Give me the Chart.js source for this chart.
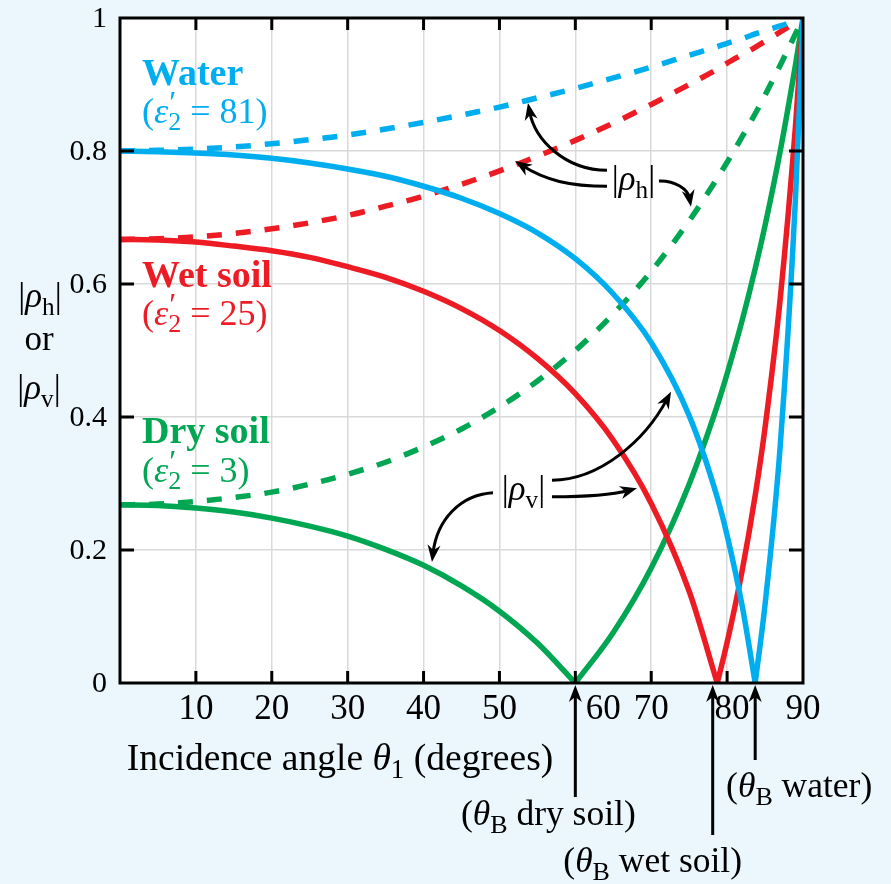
<!DOCTYPE html>
<html>
<head>
<meta charset="utf-8">
<script src="https://cdn.jsdelivr.net/npm/chart.js@4.4.1/dist/chart.umd.min.js"></script>
<style>
  html, body { margin: 0; padding: 0; background: #ecf6fd; }
  #wrap { width: 891px; height: 884px; }
</style>
</head>
<body>
<div id="wrap"><canvas id="fresnelChart" width="891" height="884"></canvas></div>
<script>
// incidence angles (degrees) and |rho| values
const angles = [0, 5, 10, 15, 20, 25, 30, 35, 40, 45, 50, 55, 60, 65, 70, 75, 78.7, 80, 82, 83.7, 85, 87, 89, 90];

const waterH = [0.800, 0.801, 0.803, 0.806, 0.811, 0.817, 0.824, 0.833, 0.843, 0.854, 0.866, 0.880, 0.894, 0.910, 0.926, 0.944, 0.957, 0.962, 0.969, 0.976, 0.981, 0.988, 0.996, 1];
const waterV = [0.800, 0.799, 0.797, 0.794, 0.789, 0.782, 0.773, 0.762, 0.747, 0.729, 0.706, 0.677, 0.638, 0.585, 0.512, 0.402, 0.279, 0.222, 0.115, 0.000, 0.118, 0.357, 0.727, 1];
const wetH = [0.667, 0.668, 0.671, 0.676, 0.683, 0.692, 0.703, 0.717, 0.732, 0.750, 0.770, 0.792, 0.816, 0.842, 0.870, 0.900, 0.923, 0.932, 0.945, 0.956, 0.965, 0.979, 0.993, 1];
const wetV = [0.667, 0.666, 0.663, 0.657, 0.650, 0.640, 0.626, 0.610, 0.589, 0.563, 0.530, 0.488, 0.435, 0.365, 0.270, 0.138, 0.000, 0.061, 0.170, 0.282, 0.384, 0.578, 0.836, 1];
const dryH = [0.268, 0.269, 0.273, 0.279, 0.287, 0.299, 0.314, 0.332, 0.355, 0.382, 0.415, 0.454, 0.500, 0.555, 0.619, 0.695, 0.759, 0.783, 0.822, 0.856, 0.884, 0.929, 0.976, 1];
const dryV = [0.268, 0.267, 0.263, 0.257, 0.248, 0.236, 0.221, 0.201, 0.177, 0.146, 0.108, 0.060, 0.000, 0.076, 0.173, 0.299, 0.417, 0.465, 0.546, 0.623, 0.688, 0.800, 0.929, 1];

const xTicks = [10, 20, 30, 40, 50, 60, 70, 80, 90];
const xTickLabels = ['10', '20', '30', '40', '50', '60', '70', '80', '90'];
const yTicks = [0, 0.2, 0.4, 0.6, 0.8, 1];
const yTickLabels = ['0', '0.2', '0.4', '0.6', '0.8', '1'];

// Brewster angles (degrees) marked under the axis
const brewsterDry = 60;
const brewsterWet = 78.1;
const brewsterWater = 83.7;

const BLUE = '#00aeef';
const RED = '#ed1c24';
const GREEN = '#00a651';
const SERIF = '"Liberation Serif", "DejaVu Serif", serif';

const pts = (vals, from, to) => angles.slice(from, to).map((a, i) => ({ x: a, y: vals[from + i] }));

function line(data, color, dashed) {
    return {
        data: data,
        borderColor: color,
        borderWidth: 5.5,
        borderDash: dashed ? [15, 14] : [],
        pointRadius: 0,
        fill: false,
        cubicInterpolationMode: 'monotone'
    };
}

// |rho_v| has a sharp zero at the Brewster angle: draw both branches separately
function vBranches(vals, color) {
    const k = vals.indexOf(0);
    return [
        line(pts(vals, 0, k + 1), color, false),
        line(pts(vals, k, vals.length), color, false)
    ];
}

// draw a list of text pieces side by side (italics, subscripts...)
function richText(ctx, parts, x, y, align, color) {
    ctx.fillStyle = color || '#000';
    ctx.textBaseline = 'alphabetic';
    ctx.textAlign = 'left';
    let total = 0;
    const widths = parts.map(p => {
        ctx.font = p.f;
        const w = ctx.measureText(p.t).width;
        if (!p.stay) total += w;
        return w;
    });
    let cx = align === 'center' ? x - total / 2 : (align === 'right' ? x - total : x);
    parts.forEach((p, i) => {
        ctx.font = p.f;
        ctx.fillText(p.t, cx + (p.dx || 0), y + (p.dy || 0));
        if (!p.stay) cx += widths[i];
    });
}

const reg = s => s + 'px ' + SERIF;
const ital = s => 'italic ' + s + 'px ' + SERIF;
const bold = s => 'bold ' + s + 'px ' + SERIF;

function epsLabel(value) {
    return [
        { t: '(', f: reg(36) },
        { t: 'ε', f: ital(36) },
        { t: '′', f: reg(32), dy: -10, stay: true, dx: 1 },
        { t: '2', f: reg(26), dy: 7 },
        { t: ' = ' + value + ')', f: reg(36) }
    ];
}

function rhoLabel(sub, size) {
    return [
        { t: '|', f: reg(size) },
        { t: 'ρ', f: ital(size) },
        { t: sub, f: reg(size * 0.72), dy: 8 },
        { t: '|', f: reg(size) }
    ];
}

function thetaB(rest) {
    return [
        { t: '(', f: reg(35.5) },
        { t: 'θ', f: ital(35.5) },
        { t: 'B', f: reg(26), dy: 8 },
        { t: ' ' + rest + ')', f: reg(35.5) }
    ];
}

function arrowHead(ctx, x, y, fx, fy) {
    const ang = Math.atan2(y - fy, x - fx);
    const len = 17, half = 6.5;
    const bx = x - len * Math.cos(ang), by = y - len * Math.sin(ang);
    ctx.beginPath();
    ctx.moveTo(x, y);
    ctx.lineTo(bx + half * Math.sin(ang), by - half * Math.cos(ang));
    ctx.lineTo(x - 0.7 * len * Math.cos(ang), y - 0.7 * len * Math.sin(ang));
    ctx.lineTo(bx - half * Math.sin(ang), by + half * Math.cos(ang));
    ctx.closePath();
    ctx.fill();
}

// curved arrows, points given in data units [angle, value]
const curvedArrows = [
    [[64.17, 0.771], [58.64, 0.771], [54.68, 0.817], [53.76, 0.872]],
    [[64.17, 0.747], [59.30, 0.747], [56.00, 0.756], [52.05, 0.785]],
    [[71.02, 0.755], [73.13, 0.756], [74.85, 0.742], [75.24, 0.716]],
    [[49.15, 0.286], [44.80, 0.283], [41.77, 0.245], [41.11, 0.182]],
    [[56.92, 0.305], [63.25, 0.305], [69.18, 0.365], [72.61, 0.438]],
    [[56.92, 0.280], [61.93, 0.280], [65.23, 0.284], [68.12, 0.293]]
];

const decor = {
    id: 'decor',
    beforeDraw(chart) {
        const { ctx, chartArea: a } = chart;
        ctx.save();
        ctx.fillStyle = '#ecf6fd';
        ctx.fillRect(0, 0, chart.width, chart.height);
        ctx.fillStyle = '#ffffff';
        ctx.fillRect(a.left, a.top, a.right - a.left, a.bottom - a.top);
        ctx.restore();
    },
    afterDraw(chart) {
        const { ctx, chartArea: a, scales } = chart;
        const X = v => scales.x.getPixelForValue(v);
        const Y = v => scales.y.getPixelForValue(v);
        ctx.save();

        // frame + inward tick marks
        ctx.strokeStyle = '#000';
        ctx.lineWidth = 3;
        ctx.strokeRect(a.left, a.top, a.right - a.left, a.bottom - a.top);
        ctx.beginPath();
        xTicks.slice(0, -1).forEach(t => {
            const x = X(t);
            ctx.moveTo(x, a.bottom); ctx.lineTo(x, a.bottom - 12);
            ctx.moveTo(x, a.top); ctx.lineTo(x, a.top + 12);
        });
        yTicks.slice(1, -1).forEach(t => {
            const y = Y(t);
            ctx.moveTo(a.left, y); ctx.lineTo(a.left + 14, y);
            ctx.moveTo(a.right, y); ctx.lineTo(a.right - 14, y);
        });
        ctx.stroke();

        // tick labels
        ctx.fillStyle = '#000';
        ctx.textBaseline = 'alphabetic';
        ctx.font = reg(35);
        ctx.textAlign = 'center';
        xTicks.forEach((t, i) => {
            let off = 0;
            if (t === 60) off = 28;
            if (t === 80) off = 5;
            ctx.fillText(xTickLabels[i], X(t) + off, a.bottom + 36);
        });
        ctx.font = reg(30);
        ctx.textAlign = 'right';
        yTicks.forEach((t, i) => ctx.fillText(yTickLabels[i], a.left - 13, Y(t) + 9));

        // axis titles
        richText(ctx, rhoLabel('h', 35), 40, 307, 'center');
        ctx.font = reg(35); ctx.textAlign = 'center'; ctx.fillStyle = '#000';
        ctx.fillText('or', 39, 350);
        richText(ctx, rhoLabel('v', 35), 39, 399, 'center');
        richText(ctx, [
            { t: 'Incidence angle ', f: reg(37.5) },
            { t: 'θ', f: ital(37.5) },
            { t: '1', f: reg(27), dy: 8 },
            { t: ' (degrees)', f: reg(37.5) }
        ], 340, 770, 'center');

        // material labels
        const lx = a.left + 22;
        richText(ctx, [{ t: 'Water', f: bold(38) }], lx, 85, 'left', BLUE);
        richText(ctx, epsLabel('81'), lx, 123, 'left', BLUE);
        richText(ctx, [{ t: 'Wet soil', f: bold(38) }], lx, 287, 'left', RED);
        richText(ctx, epsLabel('25'), lx, 325, 'left', RED);
        richText(ctx, [{ t: 'Dry soil', f: bold(38) }], lx, 443, 'left', GREEN);
        richText(ctx, epsLabel('3'), lx, 482, 'left', GREEN);

        // |rho_h| and |rho_v| callouts
        richText(ctx, rhoLabel('h', 35), X(67.66), Y(0.7414), 'center');
        richText(ctx, rhoLabel('v', 35), X(53.17), Y(0.2752), 'center');

        ctx.strokeStyle = '#000';
        ctx.fillStyle = '#000';
        ctx.lineWidth = 3;
        curvedArrows.forEach(c => {
            const p = c.map(q => [X(q[0]), Y(q[1])]);
            const dx = p[3][0] - p[2][0], dy = p[3][1] - p[2][1];
            const d = Math.hypot(dx, dy);
            const ex = p[3][0] - 9 * dx / d, ey = p[3][1] - 9 * dy / d;
            ctx.beginPath();
            ctx.moveTo(p[0][0], p[0][1]);
            ctx.bezierCurveTo(p[1][0], p[1][1], p[2][0], p[2][1], ex, ey);
            ctx.stroke();
            arrowHead(ctx, p[3][0], p[3][1], p[2][0], p[2][1]);
        });

        // Brewster angle markers under the axis
        const marks = [
            [brewsterDry, a.bottom + 114, thetaB('dry soil'), -27, a.bottom + 142],
            [brewsterWet, a.bottom + 152, thetaB('wet soil'), -60, a.bottom + 189],
            [brewsterWater, a.bottom + 77, thetaB('water'), 44, a.bottom + 114]
        ];
        marks.forEach(m => {
            const x = X(m[0]);
            ctx.beginPath();
            ctx.moveTo(x, m[1]);
            ctx.lineTo(x, a.bottom + 12);
            ctx.stroke();
            arrowHead(ctx, x, a.bottom + 2, x, a.bottom + 40);
            richText(ctx, m[2], x + m[3], m[4], 'center');
        });

        ctx.restore();
    }
};

new Chart(document.getElementById('fresnelChart').getContext('2d'), {
    type: 'line',
    data: {
        datasets: [
            ...vBranches(waterV, BLUE),
            ...vBranches(wetV, RED),
            ...vBranches(dryV, GREEN),
            line(pts(waterH, 0, angles.length), BLUE, true),
            line(pts(wetH, 0, angles.length), RED, true),
            line(pts(dryH, 0, angles.length), GREEN, true)
        ]
    },
    options: {
        responsive: false,
        animation: false,
        devicePixelRatio: 1,
        layout: { padding: { left: 120, right: 88, top: 18, bottom: 201 } },
        plugins: {
            legend: { display: false },
            tooltip: { enabled: false }
        },
        scales: {
            x: {
                type: 'linear',
                min: 0,
                max: 90,
                ticks: { stepSize: 10, display: false },
                grid: { color: '#d9d9d9', lineWidth: 1.5, drawTicks: false },
                border: { display: false },
                afterFit: s => { s.height = 0; }
            },
            y: {
                min: 0,
                max: 1,
                ticks: { stepSize: 0.2, display: false },
                grid: { color: '#d9d9d9', lineWidth: 1.5, drawTicks: false },
                border: { display: false },
                afterFit: s => { s.width = 0; }
            }
        }
    },
    plugins: [decor]
});
</script>
</body>
</html>
